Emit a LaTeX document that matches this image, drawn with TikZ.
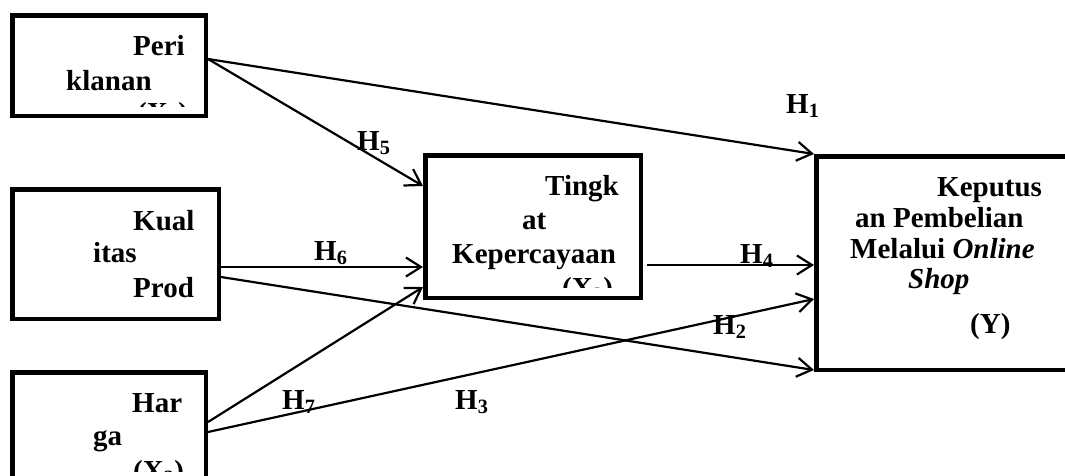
\documentclass[tikz,border=0pt]{standalone}
\usepackage{fontspec}
\setmainfont{Liberation Serif}
\usetikzlibrary{arrows.meta}
\begin{document}
\begin{tikzpicture}[x=1pt,y=-1pt,
  box/.style={draw, line width=4.5pt, rectangle, inner sep=0pt},
  txt/.style={anchor=base west, inner sep=0pt, font=\fontsize{29}{31}\selectfont\bfseries},
  hyp/.style={anchor=base west, inner sep=0pt, font=\fontsize{29}{31}\selectfont\bfseries},
  conn/.style={line width=2.2pt, -{Straight Barb[length=15pt,width=19pt,line width=2.2pt]}}]
\useasboundingbox (0,0) rectangle (1065,475);
\clip (0,0) rectangle (1065,475);

% boxes
\node[box, minimum width=193.5pt, minimum height=100.5pt] (b1) at (109,65.5) {};
\node[box, minimum width=206.5pt, minimum height=129.5pt] (b2) at (115.5,254) {};
\node[box, minimum width=193.5pt, minimum height=145.5pt] (b3) at (109,445) {};
\node[box, minimum width=215.5pt, minimum height=142.5pt] (b4) at (533,226.5) {};
\node[box, minimum width=281.5pt, minimum height=213.5pt] (b5) at (957,263) {};

% box texts
\begin{scope}
\clip (12,15) rectangle (206,106);
\node[txt] (t1a) at (133,55) {Peri};
\node[txt] (t1b) at (66,90) {klanan};
\node[txt] (t1c) at (137,122) {(X\textsubscript{1})};
\end{scope}

\node[txt] (t2a) at (133,230) {Kual};
\node[txt] (t2b) at (93,262) {itas};
\node[txt] (t2c) at (133,297) {Prod};

\begin{scope}
\clip (12,372) rectangle (206,471);
\node[txt] (t3a) at (132,412) {Har};
\node[txt] (t3b) at (93,445) {ga};
\node[txt] (t3c) at (133,480) {(X\textsubscript{3})};
\end{scope}

\begin{scope}
\clip (425,155) rectangle (641,287);
\node[txt] (t4a) at (545,195) {Tingk};
\node[txt] (t4b) at (522,229) {at};
\node[txt] (t4c) at (452,263) {Kepercayaan};
\node[txt] (t4d) at (562,297) {(X\textsubscript{2})};
\end{scope}

\node[txt] (t5a) at (937,196) {Keputus};
\node[txt] (t5b) at (855,227) {an Pembelian};
\node[txt] (t5c) at (850,258) {Melalui \textit{Online}};
\node[txt] (t5d) at (908,288) {\textit{Shop}};
\node[txt] (t5e) at (970,333) {(Y)};

% connectors
\draw[conn] ([yshift=6.5pt]b1.east) -- (b5.north west);
\draw[conn] ([yshift=6.5pt]b1.east) -- ([yshift=40.5pt]b4.west);
\draw[conn] ([yshift=-13pt]b2.east) -- ([yshift=-40.5pt]b4.west);
\draw[conn] ([yshift=-23pt]b2.east) -- ([yshift=-107pt]b5.west);
\draw[conn] ([yshift=23pt]b3.east) -- ([yshift=-60.5pt]b4.west);
\draw[conn] ([yshift=13pt]b3.east) -- ([yshift=-36pt]b5.west);
\draw[conn] ([xshift=4pt,yshift=-38.5pt]b4.east) -- ([yshift=-2pt]b5.west);

% hypothesis labels
\node[hyp] (h1) at (786,113) {H\textsubscript{1}};
\node[hyp] (h5) at (357,150) {H\textsubscript{5}};
\node[hyp] (h6) at (314,260) {H\textsubscript{6}};
\node[hyp] (h4) at (740,263) {H\textsubscript{4}};
\node[hyp] (h2) at (713,334) {H\textsubscript{2}};
\node[hyp] (h7) at (282,409) {H\textsubscript{7}};
\node[hyp] (h3) at (455,409) {H\textsubscript{3}};
\end{tikzpicture}
\end{document}
